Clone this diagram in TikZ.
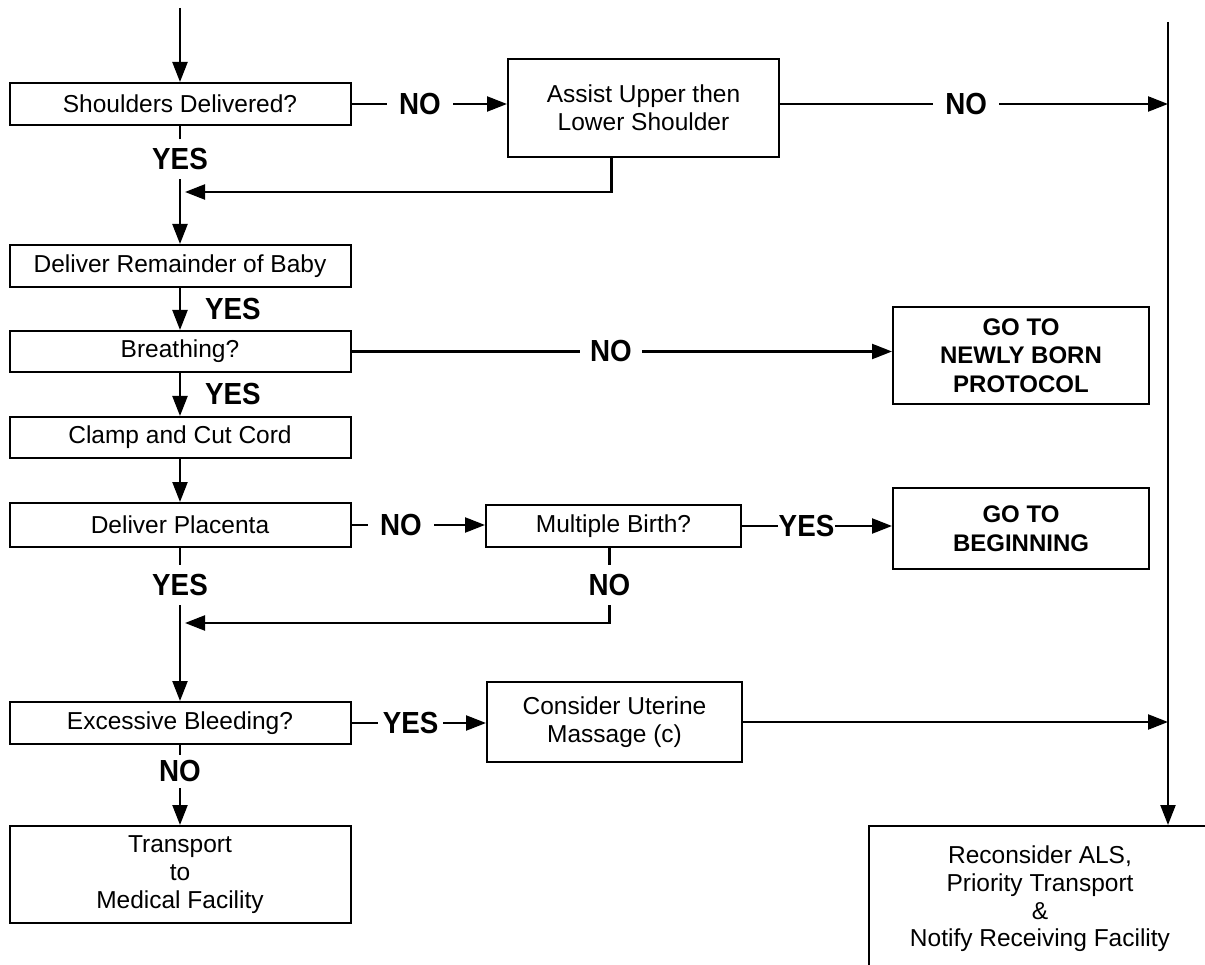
\documentclass[tikz,border=0pt]{standalone}
\usepackage{fontspec}
\setmainfont{Liberation Sans}
\newfontfamily\lblfont{Liberation Sans}[FakeStretch=0.91]
\usetikzlibrary{arrows.meta}

\tikzset{
  box/.style={draw, line width=2pt, align=center, inner sep=0pt,
    font=\fontsize{24.5}{27.7}\selectfont},
  gobox/.style={box, font=\fontsize{24}{28.5}\selectfont\bfseries},
  lbl/.style={fill=white, inner xsep=12pt, inner ysep=9pt,
    font=\lblfont\fontsize{30.5}{32}\selectfont\bfseries},
  side/.style={anchor=west, xshift=24pt, inner sep=0pt,
    font=\lblfont\fontsize{30.5}{32}\selectfont\bfseries},
  arr/.style={line width=2.3pt, -{Triangle[length=20pt,width=15pt]}},
}

\begin{document}
\begin{tikzpicture}[x=1pt,y=-1pt]
\useasboundingbox (0,0) rectangle (1205,965);
\clip (0,0) rectangle (1205,965);

% left column
\node[box, minimum width=341pt, minimum height=42pt] (shoulders) at (180,104) {Shoulders Delivered?};
\node[box, minimum width=341pt, minimum height=42pt] (remainder) at (180,266) {Deliver Remainder of Baby};
\node[box, minimum width=341pt, minimum height=41pt] (breathing) at (180,351.5) {Breathing?};
\node[box, minimum width=341pt, minimum height=41pt] (clamp) at (180,437.5) {Clamp and Cut Cord};
\node[box, minimum width=341pt, minimum height=44pt] (placenta) at (180,525) {Deliver Placenta};
\node[box, minimum width=341pt, minimum height=42pt] (excessive) at (180,723) {Excessive Bleeding?};
\node[box, minimum width=341pt, minimum height=97pt] (transport) at (180,874.5) {Transport\\to\\Medical Facility};

% middle column
\node[box, minimum width=271pt, minimum height=98pt] (assist) at (643.5,108) {Assist Upper then\\Lower Shoulder};
\node[box, minimum width=255pt, minimum height=42pt] (multiple) at (613.5,526) {Multiple Birth?};
\node[box, minimum width=255pt, minimum height=80pt] (uterine) at (614.5,722) {Consider Uterine\\Massage (c)};

% right column
\node[gobox, minimum width=256pt, minimum height=97pt] (newborn) at (1021,355.5) {GO TO\\NEWLY BORN\\PROTOCOL};
\node[gobox, minimum width=256pt, minimum height=81pt] (beginning) at (1021,528.5) {GO TO\\BEGINNING};
\node[box, minimum width=342pt, minimum height=146pt] (reconsider) at (1040,899) {Reconsider ALS,\\Priority Transport\\\&\\Notify Receiving Facility};

\coordinate (start) at (180,8);
\coordinate (rail) at (1168,22);
\coordinate (join1) at (180,192);
\coordinate (join2) at (180,623);

% connectors
\draw[arr] (start) -- (shoulders.north);
\draw[arr] (rail) -- (rail |- reconsider.north);
\draw[arr] (shoulders.east) -- node[lbl, pos=.44]{NO} (shoulders.east -| assist.west);
\draw[arr] (assist.east |- shoulders.east) -- node[lbl, pos=.48]{NO} (shoulders.east -| rail);
\draw[arr] (shoulders.south) -- node[lbl, pos=.28]{YES} (remainder.north);
\draw[arr, shorten >=5pt] ([xshift=-32pt]assist.south) |- (join1);
\draw[arr] (remainder.south) -- node[side]{YES} (breathing.north);
\draw[arr] (breathing.east) -- node[lbl, pos=.48, inner xsep=10pt]{NO} (breathing.east -| newborn.west);
\draw[arr] (breathing.south) -- node[side]{YES} (clamp.north);
\draw[arr] (clamp.south) -- (placenta.north);
\draw[arr] (placenta.east) -- node[lbl, pos=.37]{NO} (placenta.east -| multiple.west);
\draw[arr] (multiple.east) -- node[lbl, pos=.43, inner xsep=1pt]{YES} (multiple.east -| beginning.west);
\draw[arr] (placenta.south) -- node[lbl, pos=.24]{YES} (excessive.north);
\draw[arr, shorten >=5pt] ([xshift=-4pt]multiple.south) -- node[lbl, pos=.49]{NO} ([xshift=-4pt]multiple.south |- join2) -- (join2);
\draw[arr] (excessive.east) -- node[lbl, pos=.44, inner xsep=5pt]{YES} (excessive.east -| uterine.west);
\draw[arr] (uterine.east) -- (uterine.east -| rail);
\draw[arr] (excessive.south) -- node[lbl, pos=.33, inner ysep=6pt]{NO} (transport.north);
\end{tikzpicture}
\end{document}
